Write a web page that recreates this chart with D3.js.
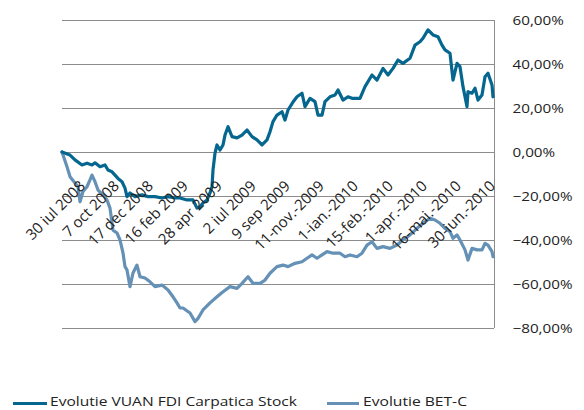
<!DOCTYPE html>
<html>
<head>
<meta charset="utf-8">
<script src="https://cdn.jsdelivr.net/npm/d3@7"></script>
<style>
  html, body { margin: 0; padding: 0; background: #fff; }
  svg { display: block; }
  text { font-family: "Open Sans", "Noto Sans", sans-serif; fill: #222; }
</style>
</head>
<body>
<div id="chart"></div>
<script>
// Category tick labels (every N-th trading session)
const tickLabels = ["30 iul 2008", "7 oct 2008", "17 dec 2008", "16 feb 2009", "28 apr 2009",
  "2 iul 2009", "9 sep 2009", "11-nov.-2009", "1-ian.-2010", "15-feb.-2010",
  "1-apr.-2010", "16-mai.-2010", "30-iun.-2010"];
const tickSessions = [0, 34, 68, 103, 137, 171, 205, 239, 273, 308, 342, 376, 410];

// Y axis ticks (percent)
const yTicks = [-80, -60, -40, -20, 0, 20, 40, 60];

// Series 1: Evolutie VUAN FDI Carpatica Stock (session index, % change)
const vuanSessions = [0, 8, 13, 20, 25, 30, 33, 38, 43, 46, 50, 53, 56, 60, 63, 65, 68, 73, 80, 86, 93, 100, 106, 113, 118, 125, 131, 135, 138, 141, 145, 148, 150, 151, 153, 155, 158, 161, 163, 166, 170, 175, 180, 185, 190, 195, 200, 205, 208, 211, 215, 220, 223, 226, 231, 235, 240, 243, 248, 253, 256, 260, 263, 268, 273, 276, 281, 286, 290, 298, 303, 310, 315, 321, 326, 331, 336, 341, 348, 353, 358, 361, 366, 371, 376, 380, 383, 388, 391, 395, 398, 401, 405, 406, 410, 413, 416, 420, 423, 426, 430, 431];
const vuanValues = [0, -1.4, -3.6, -5.9, -5.1, -5.9, -4.9, -6.7, -5.9, -8.2, -9.0, -10.5, -12.0, -13.5, -16.4, -20.3, -18.6, -20.3, -19.5, -20.3, -20.3, -20.9, -20.3, -20.9, -20.9, -21.8, -21.8, -25.5, -24.9, -23.2, -21.8, -18.6, -15.8, -8.2, -0.5, 3.2, 0.9, 3.2, 7.7, 11.5, 7.0, 6.4, 7.7, 10.0, 7.0, 5.5, 3.2, 5.5, 9.2, 13.8, 16.8, 18.3, 14.5, 19.1, 22.7, 25.1, 26.7, 20.6, 24.4, 22.9, 16.8, 16.8, 22.9, 25.1, 25.9, 28.2, 23.6, 25.1, 24.4, 24.4, 29.7, 35.0, 32.7, 38.0, 35.0, 38.0, 41.8, 40.3, 42.6, 48.6, 50.1, 51.7, 55.5, 53.2, 52.4, 48.6, 46.4, 44.9, 32.7, 40.3, 38.8, 29.7, 20.6, 27.4, 26.7, 29.0, 23.6, 25.9, 34.2, 35.8, 30.5, 25.1];

// Series 2: Evolutie BET-C (session index, % change)
const betcSessions = [0, 5, 8, 13, 16, 18, 21, 25, 28, 30, 33, 36, 41, 45, 48, 51, 55, 58, 61, 63, 65, 68, 71, 75, 78, 83, 88, 93, 100, 106, 111, 115, 118, 121, 128, 133, 136, 141, 148, 155, 161, 168, 175, 180, 186, 191, 198, 203, 208, 215, 221, 226, 233, 240, 245, 250, 255, 260, 265, 271, 278, 283, 288, 295, 300, 305, 310, 315, 321, 328, 335, 341, 348, 355, 361, 368, 373, 378, 383, 388, 391, 395, 398, 403, 406, 410, 415, 420, 423, 426, 430, 431];
const betcValues = [0, -6.7, -11.2, -14.1, -15.8, -22.6, -18.0, -15.8, -12.7, -10.5, -13.5, -17.3, -19.5, -21.8, -25.5, -35.5, -36.8, -40.0, -45.9, -52.1, -53.6, -61.2, -55.0, -51.4, -56.7, -57.3, -59.0, -61.2, -60.5, -62.7, -65.8, -68.6, -70.9, -70.9, -73.2, -77.1, -75.6, -71.8, -68.6, -65.8, -63.5, -61.2, -62.0, -59.7, -56.7, -59.7, -59.7, -58.2, -55.1, -52.1, -51.4, -52.1, -50.6, -49.9, -48.3, -46.8, -48.3, -46.8, -45.3, -46.0, -46.0, -47.6, -46.8, -47.6, -46.0, -42.3, -40.8, -43.8, -43.0, -43.8, -42.3, -40.0, -37.7, -34.7, -32.4, -30.1, -30.9, -32.4, -34.7, -36.2, -39.2, -37.7, -40.0, -44.5, -49.1, -43.8, -44.5, -44.5, -41.5, -42.3, -45.3, -47.6];

const seriesNames = ["Evolutie VUAN FDI Carpatica Stock", "Evolutie BET-C"];
const seriesColors = ["#05668f", "#6491b5"];

const W = 584, H = 410;
const svg = d3.select("#chart").append("svg").attr("width", W).attr("height", H);

const x = d3.scaleLinear().domain([0, 432]).range([62, 494]);
const y = d3.scaleLinear().domain([-80, 60]).range([328, 20]);

// gridlines
svg.append("g").selectAll("line").data(yTicks).join("line")
  .attr("x1", 62).attr("x2", 494)
  .attr("y1", d => Math.round(y(d)) + 0.5).attr("y2", d => Math.round(y(d)) + 0.5)
  .attr("stroke", "#8c8c8c").attr("stroke-width", 1);

// right axis
const yAxis = d3.axisRight(y).tickValues(yTicks).tickSize(0).tickPadding(18)
  .tickFormat(d => d3.format(".2f")(d).replace(".", ",") + "%");
const ya = svg.append("g").attr("transform", "translate(494.5,0)").call(yAxis);
ya.select(".domain").attr("stroke", "#8c8c8c").attr("d", `M0,${y(60)}V${y(-80)}`);
ya.selectAll("text").attr("font-family", "Open Sans").attr("font-size", 13).attr("fill", "#222")
  .attr("text-anchor", "start")
  .each(function() {
    const t = d3.select(this);
    const len = this.getComputedTextLength();
    t.attr("textLength", len * 1.17).attr("lengthAdjust", "spacingAndGlyphs");
  });

// lines
const mk = (sess, vals) => sess.map((s, i) => [s, vals[i]]);
const line = d3.line().x(d => x(d[0])).y(d => y(d[1]));
const data = [mk(betcSessions, betcValues), mk(vuanSessions, vuanValues)];
const cols = [seriesColors[1], seriesColors[0]];
svg.append("g").selectAll("path").data(data).join("path")
  .attr("d", line).attr("fill", "none")
  .attr("stroke", (d, i) => cols[i]).attr("stroke-width", 3.2)
  .attr("stroke-linejoin", "round").attr("stroke-linecap", "round");

// category labels (rotated)
svg.append("g").selectAll("text").data(tickLabels).join("text")
  .attr("transform", (d, i) => `translate(${x(tickSessions[i]) + 24},187) rotate(-45)`)
  .attr("text-anchor", "end")
  .attr("font-size", 15)
  .text(d => d);

// legend
const leg = [
  { x1: 13, x2: 47, tx: 50, w: 247 },
  { x1: 327, x2: 359, tx: 363, w: 104 }
];
const lg = svg.append("g");
leg.forEach((L, i) => {
  lg.append("line").attr("x1", L.x1).attr("x2", L.x2).attr("y1", 403.5).attr("y2", 403.5)
    .attr("stroke", seriesColors[i]).attr("stroke-width", 3);
  const t = lg.append("text").attr("x", L.tx).attr("y", 406).attr("font-size", 13).text(seriesNames[i]);
  t.attr("textLength", L.w).attr("lengthAdjust", "spacingAndGlyphs");
});
</script>
</body>
</html>
